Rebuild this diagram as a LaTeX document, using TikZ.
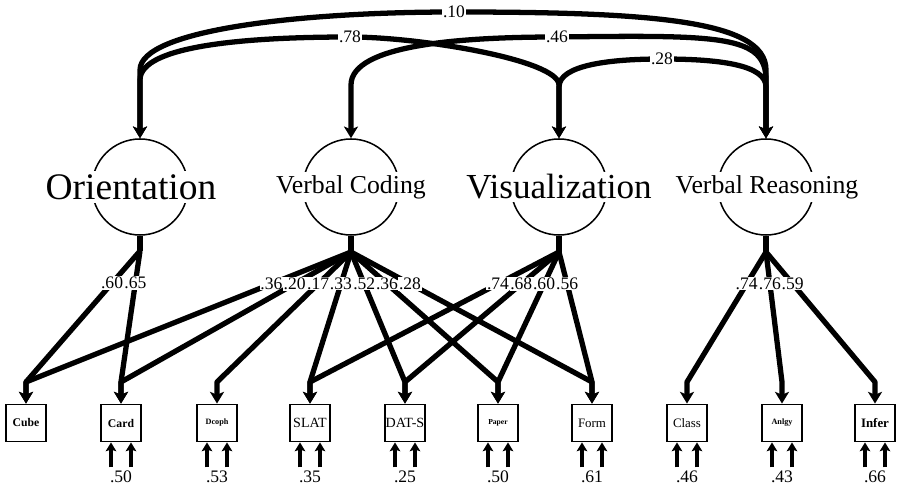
\documentclass[tikz,border=0pt]{standalone}
\usepackage{fontspec}
\setmainfont{Liberation Serif}
\usetikzlibrary{arrows.meta}

\begin{document}
\begin{tikzpicture}[
    x=0.03cm,y=0.03cm,
    >={Stealth[length=10pt,width=12pt,inset=2.5pt]},
    latent/.style={draw,circle,line width=1.3pt,minimum size=2.88cm,inner sep=0pt},
    latname/.style={fill=white,inner sep=2.5pt,font=\fontsize{22}{24}\selectfont},
    bigname/.style={latname,font=\fontsize{30}{32}\selectfont},
    obs/.style={draw,line width=1.6pt,fill=white,minimum width=1.2cm,minimum height=1.11cm,inner sep=0pt,font=\fontsize{#1}{#1}\selectfont},
    obs/.default=10,
    load/.style={->,line width=4.5pt,line join=round},
    corr/.style={<->,line width=4.5pt,line join=round},
    stem/.style={line width=4.5pt},
    err/.style={->,line width=3pt,>={Stealth[length=7.5pt,width=9pt,inset=1.5pt]}},
    coef/.style={fill=white,inner sep=0.6pt,font=\fontsize{15}{16}\selectfont},
    errval/.style={inner sep=0pt,font=\fontsize{15}{16}\selectfont}
  ]
  \useasboundingbox (0,0) rectangle (898,485);

  % factors
  \node[latent] (ori) at (140,298) {};
  \node[latent] (vc) at (351,298) {};
  \node[latent] (vis) at (559,298) {};
  \node[latent] (vr) at (766,298) {};
  \node[bigname,font=\fontsize{32}{34}\selectfont] (oriname) at (131,298) {Orientation};
  \node[latname] (vcname) at (351,298) {Verbal Coding};
  \node[bigname] (visname) at (559,298) {Visualization};
  \node[latname] (vrname) at (767,298) {Verbal Reasoning};

  % tests
  \node[obs] (cube) at (26,62) {\bfseries Cube};
  \node[obs] (card) at (121,62) {\bfseries Card};
  \node[obs=7] (dcoph) at (217,62) {\bfseries Dcoph};
  \node[obs=12] (slat) at (310,62) {SLAT};
  \node[obs=12] (dats) at (405,62) {DAT-S};
  \node[obs=6.5] (paper) at (498,62) {\bfseries Paper};
  \node[obs=11] (form) at (592,62) {Form};
  \node[obs=11] (class) at (687,62) {Class};
  \node[obs=7] (anlgy) at (782,62) {\bfseries Anlgy};
  \node[obs=11] (infer) at (875,62) {\bfseries Infer};

  \coordinate (cubein) at (26,103);
  \coordinate (cardin) at (121,103);
  \coordinate (dcophin) at (217,103);
  \coordinate (slatin) at (310,103);
  \coordinate (datsin) at (405,103);
  \coordinate (paperin) at (498,103);
  \coordinate (formin) at (592,103);
  \coordinate (classin) at (687,103);
  \coordinate (anlgyin) at (782,103);
  \coordinate (inferin) at (875,103);

  \coordinate (orifan) at (140,234);
  \coordinate (vcfan) at (351,233);
  \coordinate (visfan) at (559,233);
  \coordinate (vrfan) at (766,233);
  \draw[stem] (ori) -- (orifan);
  \draw[stem] (vc) -- (vcfan);
  \draw[stem] (vis) -- (visfan);
  \draw[stem] (vr) -- (vrfan);

  % loadings
  \draw[load] (orifan) -- node[coef,pos=.245]{.60} (cubein) -- (cube);
  \draw[load] (orifan) -- node[coef,pos=.245]{.65} (cardin) -- (card);

  \draw[load] (vcfan) -- node[coef,pos=.245]{.36} (cubein) -- (cube);
  \draw[load] (vcfan) -- node[coef,pos=.245]{.20} (cardin) -- (card);
  \draw[load] (vcfan) -- node[coef,pos=.245]{.17} (dcophin) -- (dcoph);
  \draw[load] (vcfan) -- node[coef,pos=.245]{.33} (slatin) -- (slat);
  \draw[load] (vcfan) -- node[coef,pos=.245]{.52} (datsin) -- (dats);
  \draw[load] (vcfan) -- node[coef,pos=.245]{.36} (paperin) -- (paper);
  \draw[load] (vcfan) -- node[coef,pos=.245]{.28} (formin) -- (form);

  \draw[load] (visfan) -- node[coef,pos=.245]{.74} (slatin) -- (slat);
  \draw[load] (visfan) -- node[coef,pos=.245]{.68} (datsin) -- (dats);
  \draw[load] (visfan) -- node[coef,pos=.245]{.60} (paperin) -- (paper);
  \draw[load] (visfan) -- node[coef,pos=.245]{.56} (formin) -- (form);

  \draw[load] (vrfan) -- node[coef,pos=.245]{.74} (classin) -- (class);
  \draw[load] (vrfan) -- node[coef,pos=.245]{.76} (anlgyin) -- (anlgy);
  \draw[load] (vrfan) -- node[coef,pos=.245]{.59} (inferin) -- (infer);

  % factor correlations
  \draw[corr] (ori) -- (140,415) .. controls (140,455) and (300,473) .. (454,473) node[coef]{.10}
    .. controls (650,473) and (766,465) .. (766,415) -- (vr);
  \draw[corr] (ori) -- (140,405) .. controls (140,440) and (250,448) .. (350,448) node[coef]{.78}
    .. controls (420,448) and (559,425) .. (559,400) -- (vis);
  \draw[corr] (vc) -- (351,400) .. controls (351,440) and (460,448) .. (557,448) node[coef]{.46}
    .. controls (720,450) and (766,450) .. (766,405) -- (vr);
  \draw[corr] (vis) -- (559,398) .. controls (559,420) and (610,426) .. (662,426) node[coef]{.28}
    .. controls (720,426) and (766,420) .. (766,398) -- (vr);

  % residuals
  \foreach \b/\v in {card/.50,dcoph/.53,slat/.35,dats/.25,paper/.50,form/.61,class/.46,anlgy/.43,infer/.66}{
    \coordinate (errl\b) at ([shift={(-10,-25)}]\b.south);
    \coordinate (errr\b) at ([shift={(10,-25)}]\b.south);
    \draw[err] (errl\b) -- (errl\b |- \b.south);
    \draw[err] (errr\b) -- (errr\b |- \b.south);
    \node[errval] (val\b) at ([shift={(0,-34)}]\b.south) {\v};
  }
\end{tikzpicture}
\end{document}
